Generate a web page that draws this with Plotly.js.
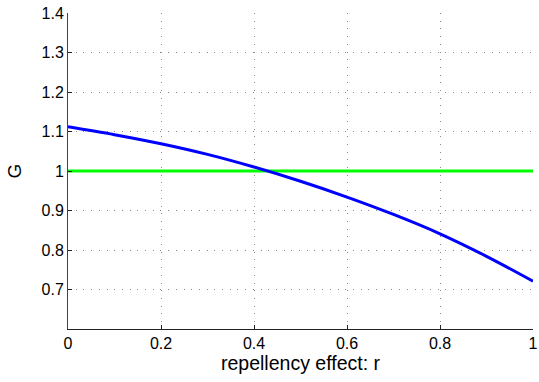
<!DOCTYPE html>
<html>
<head>
<meta charset="utf-8">
<script src="https://cdn.plot.ly/plotly-3.0.1.min.js"></script>
<style>html,body{margin:0;padding:0;background:#fff;}#chart{width:539px;height:382px;}</style>
</head>
<body>
<div id="chart"></div>
<script>
const rValues = [0, 0.1, 0.2, 0.3, 0.4, 0.5, 0.6, 0.7, 0.8, 0.9, 1.0];
const gValues = [1.112, 1.092, 1.069, 1.042, 1.010, 0.974, 0.934, 0.890, 0.841, 0.784, 0.721];
const baselineR = [0, 1];
const baselineG = [1, 1];
const xTicks = [0, 0.2, 0.4, 0.6, 0.8, 1];
const xTickLabels = ['0', '0.2', '0.4', '0.6', '0.8', '1'];
const yTicks = [0.7, 0.8, 0.9, 1, 1.1, 1.2, 1.3, 1.4];
const yTickLabels = ['0.7', '0.8', '0.9', '1', '1.1', '1.2', '1.3', '1.4'];

const traces = [
  {x: baselineR, y: baselineG, mode: 'lines', line: {color: '#00ff00', width: 3}, hoverinfo: 'none'},
  {x: rValues, y: gValues, mode: 'lines', line: {color: '#0000ff', width: 3, shape: 'spline'}, hoverinfo: 'none'}
];

const fam = 'Liberation Sans, Arial, sans-serif';
const layout = {
  width: 539, height: 382,
  margin: {l: 68, r: 6, t: 13, b: 53},
  paper_bgcolor: '#fff', plot_bgcolor: '#fff',
  showlegend: false,
  font: {family: fam, color: '#000'},
  xaxis: {
    range: [0, 1], tickvals: xTicks, ticktext: xTickLabels,
    showgrid: true, gridcolor: '#8a8a8a', griddash: '1px,6.7px', gridwidth: 1,
    showline: true, linecolor: '#222', linewidth: 1,
    ticks: 'inside', ticklen: 4, tickcolor: '#222',
    zeroline: false,
    tickfont: {size: 16, family: fam, color: '#000'},
    title: {text: 'repellency effect: r', font: {size: 19.5, family: fam, color: '#000'}, standoff: 2}
  },
  yaxis: {
    range: [0.6, 1.4], tickvals: yTicks, ticktext: yTickLabels,
    showgrid: true, gridcolor: '#8a8a8a', griddash: '1px,6.7px', gridwidth: 1,
    showline: true, linecolor: '#444', linewidth: 1,
    ticks: 'inside', ticklen: 4, tickcolor: '#222',
    zeroline: false,
    tickfont: {size: 16, family: fam, color: '#000'},
    title: {text: 'G', font: {size: 19, family: fam, color: '#000'}, standoff: 14}
  }
};
Plotly.newPlot('chart', traces, layout, {staticPlot: true, displayModeBar: false});
</script>
</body>
</html>
